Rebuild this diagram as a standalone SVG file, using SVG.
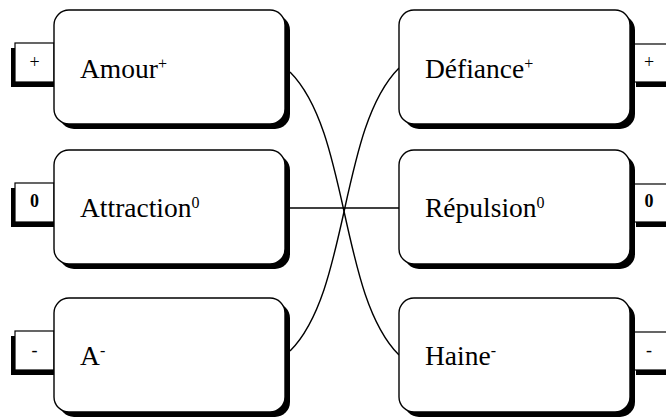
<svg xmlns="http://www.w3.org/2000/svg" width="666" height="418" viewBox="0 0 666 418">
  <defs>
    <style>
      .shadow { fill: #000; }
      .box { fill: #fff; stroke: #000; stroke-width: 1.4; }
      .tab { fill: #fff; stroke: #000; stroke-width: 1.2; }
      .link { fill: none; stroke: #000; stroke-width: 1.4; }
    </style>
  </defs>
  <rect width="666" height="418" fill="#fff"/>

  <!-- connectors -->
  <g id="connectors">
    <path class="link" d="M290,72 C350,132 339,295 399,355"/>
    <path class="link" d="M399,68 C339,128 350,291 290,351"/>
    <path class="link" d="M290,208 H399"/>
  </g>

  <!-- left column -->
  <g id="amour">
    <rect class="shadow" x="11" y="48" width="43" height="39"/>
    <rect class="tab" x="15" y="43" width="39" height="39"/>
    <text x="34.5" y="68" font-family="Liberation Serif" font-size="18" text-anchor="middle">+</text>
    <rect class="shadow" x="59" y="15" width="231" height="114" rx="15"/>
    <rect class="box" x="54" y="10" width="231" height="114" rx="15"/>
    <text x="80" y="78" font-family="Liberation Serif" font-size="27.5">Amour<tspan font-size="16" dy="-9">+</tspan></text>
  </g>

  <g id="attraction">
    <rect class="shadow" x="11" y="188" width="43" height="39"/>
    <rect class="tab" x="15" y="183" width="39" height="39"/>
    <text x="34.5" y="207" font-family="Liberation Serif" font-size="18" font-weight="bold" text-anchor="middle">0</text>
    <rect class="shadow" x="59" y="155" width="231" height="114" rx="15"/>
    <rect class="box" x="54" y="150" width="231" height="114" rx="15"/>
    <text x="80" y="217" font-family="Liberation Serif" font-size="27.5">Attraction<tspan font-size="16" dy="-9">0</tspan></text>
  </g>

  <g id="a-moins">
    <rect class="shadow" x="11" y="336" width="43" height="39"/>
    <rect class="tab" x="15" y="331" width="39" height="39"/>
    <text x="34.5" y="356" font-family="Liberation Serif" font-size="18" text-anchor="middle">-</text>
    <rect class="shadow" x="59" y="303" width="231" height="114" rx="15"/>
    <rect class="box" x="54" y="298" width="231" height="114" rx="15"/>
    <text x="80" y="365" font-family="Liberation Serif" font-size="27.5">A<tspan font-size="16" dy="-9">-</tspan></text>
  </g>

  <!-- right column -->
  <g id="defiance">
    <rect class="shadow" x="636" y="49" width="45" height="38"/>
    <rect class="tab" x="631" y="44" width="45" height="38"/>
    <text x="649" y="68" font-family="Liberation Serif" font-size="18" text-anchor="middle">+</text>
    <rect class="shadow" x="404" y="15" width="231" height="114" rx="15"/>
    <rect class="box" x="399" y="10" width="231" height="114" rx="15"/>
    <text x="425" y="78" font-family="Liberation Serif" font-size="27.5">Défiance<tspan font-size="16" dy="-9">+</tspan></text>
  </g>

  <g id="repulsion">
    <rect class="shadow" x="636" y="189" width="45" height="38"/>
    <rect class="tab" x="631" y="184" width="45" height="38"/>
    <text x="649" y="207" font-family="Liberation Serif" font-size="18" font-weight="bold" text-anchor="middle">0</text>
    <rect class="shadow" x="404" y="155" width="231" height="114" rx="15"/>
    <rect class="box" x="399" y="150" width="231" height="114" rx="15"/>
    <text x="425" y="217" font-family="Liberation Serif" font-size="27.5">Répulsion<tspan font-size="16" dy="-9">0</tspan></text>
  </g>

  <g id="haine">
    <rect class="shadow" x="636" y="337" width="45" height="38"/>
    <rect class="tab" x="631" y="332" width="45" height="38"/>
    <text x="649" y="356" font-family="Liberation Serif" font-size="18" text-anchor="middle">-</text>
    <rect class="shadow" x="404" y="303" width="231" height="114" rx="15"/>
    <rect class="box" x="399" y="298" width="231" height="114" rx="15"/>
    <text x="425" y="365" font-family="Liberation Serif" font-size="27.5">Haine<tspan font-size="16" dy="-9">-</tspan></text>
  </g>
</svg>
